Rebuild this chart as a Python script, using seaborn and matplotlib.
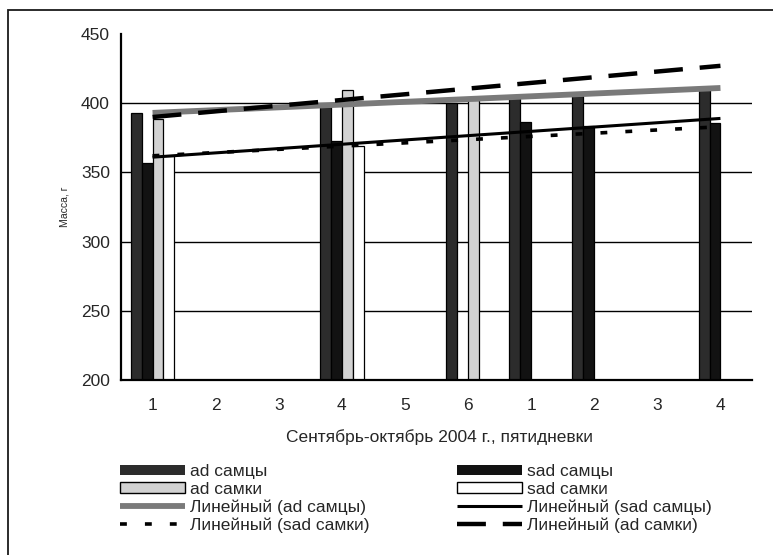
import numpy as np
import pandas as pd
import matplotlib
matplotlib.use("Agg")
import matplotlib.pyplot as plt
import seaborn as sns
from matplotlib.patches import Patch, Rectangle
from matplotlib.lines import Line2D

# Five-day periods, September–October 2004
periods = ["1", "2", "3", "4", "5", "6", "1", "2", "3", "4"]
series_names = ["ad самцы", "sad самцы", "ad самки", "sad самки"]

nan = np.nan
ad_males = [393, nan, nan, 397.5, nan, 400.5, 403.5, 405, nan, 410]
sad_males = [357, nan, nan, 372.5, nan, nan, 386.5, 383.5, nan, 385.5]
ad_females = [388.5, nan, nan, 409.5, nan, 402, nan, nan, nan, nan]
sad_females = [362, nan, nan, 369, nan, nan, nan, nan, nan, nan]

# Linear trend values at the first and last period, per series
trend_start = [393, 361, 390, 362]
trend_end = [411, 389, 427, 383]

y_ticks = [200, 250, 300, 350, 400, 450]

sns.set_theme(style="white")
plt.rcParams["font.family"] = ["Liberation Sans", "DejaVu Sans"]

W, H = 773, 555
FS = 12.5
fig = plt.figure(figsize=(W / 100, H / 100), dpi=100)
ax = fig.add_axes([121 / W, 1 - 380 / H, (752 - 121) / W, (380 - 34) / H])

pos = np.arange(len(periods))
rows = []
for name, vals in zip(series_names, [ad_males, sad_males, ad_females, sad_females]):
    for i, v in zip(pos, vals):
        if not np.isnan(v):
            rows.append({"period": int(i), "series": name, "mass": v})
df = pd.DataFrame(rows)

palette = {
    "ad самцы": "#2c2c2c",
    "sad самцы": "#121212",
    "ad самки": "#d2d2d2",
    "sad самки": "#ffffff",
}

# Horizontal gridlines (inner ticks only)
for yv in y_ticks[1:-1]:
    ax.axhline(yv, color="black", lw=1.0, zorder=1)

sns.barplot(data=df, x="period", y="mass", hue="series", order=list(pos),
            hue_order=series_names, palette=palette, width=0.69,
            edgecolor="black", linewidth=0.9, errorbar=None, legend=False,
            ax=ax, zorder=2)

trend_styles = {
    "ad самцы": dict(color="#7a7a7a", lw=4.2, ls="-", solid_capstyle="butt"),
    "sad самцы": dict(color="black", lw=2.2, ls="-", solid_capstyle="butt"),
    "ad самки": dict(color="black", lw=3.2, ls=(0, (6.5, 3.8)), dash_capstyle="butt"),
    "sad самки": dict(color="black", lw=2.6, ls=(0, (1.9, 5.0)), dash_capstyle="butt"),
}
for name, y0, y1 in zip(series_names, trend_start, trend_end):
    ax.plot([pos[0], pos[-1]], [y0, y1], zorder=3, **trend_styles[name])

ax.set_xlim(-0.5, len(periods) - 0.5)
ax.set_ylim(y_ticks[0], y_ticks[-1])
ax.set_yticks(y_ticks)
ax.set_yticklabels([str(v) for v in y_ticks], fontsize=FS)

# category labels at centres, small inward ticks at boundaries
ax.set_xticks(pos)
ax.set_xticklabels(periods, fontsize=FS)
ax.tick_params(axis="x", which="major", length=0, pad=13)
ax.set_xticks(np.arange(-0.5, len(periods), 1.0), minor=True)
ax.tick_params(axis="x", which="minor", direction="in", length=5, width=1.2, color="black")
ax.tick_params(axis="y", direction="inout", length=7, width=1.3, color="black", pad=4.5)

for side in ["top", "right"]:
    ax.spines[side].set_visible(False)
for side in ["left", "bottom"]:
    ax.spines[side].set_color("black")
    ax.spines[side].set_linewidth(1.6)

ax.set_xlabel("Сентябрь-октябрь 2004 г., пятидневки", fontsize=FS)
ax.xaxis.set_label_coords(0.505, -0.143)
ax.set_ylabel("Масса, г", fontsize=7.5)
ax.yaxis.set_label_coords(-0.082, 0.5)

handles = [
    Patch(facecolor=palette["ad самцы"], edgecolor="none"),
    Patch(facecolor=palette["ad самки"], edgecolor="black", linewidth=1.0),
    Line2D([], [], **trend_styles["ad самцы"]),
    Line2D([], [], **trend_styles["sad самки"]),
    Patch(facecolor=palette["sad самцы"], edgecolor="none"),
    Patch(facecolor=palette["sad самки"], edgecolor="black", linewidth=1.0),
    Line2D([], [], **trend_styles["sad самцы"]),
    Line2D([], [], **trend_styles["ad самки"]),
]
labels = [
    "ad самцы", "ad самки", "Линейный (ad самцы)", "Линейный (sad самки)",
    "sad самцы", "sad самки", "Линейный (sad самцы)", "Линейный (ad самки)",
]
fig.legend(handles, labels, ncol=2, loc="upper left",
           bbox_to_anchor=(120 / W, 1 - 464 / H), frameon=False,
           fontsize=FS, handlelength=3.75, handleheight=0.55,
           handletextpad=0.3, labelspacing=0.15, columnspacing=5.0,
           borderpad=0, borderaxespad=0)

# outer chart border
fig.patches.append(Rectangle((8 / W, -0.1), 1.2, 1 - 10 / H + 0.1,
                             transform=fig.transFigure, fill=False,
                             lw=1.3, ec="#1a1a1a"))

fig.savefig("out.png", dpi=100)
